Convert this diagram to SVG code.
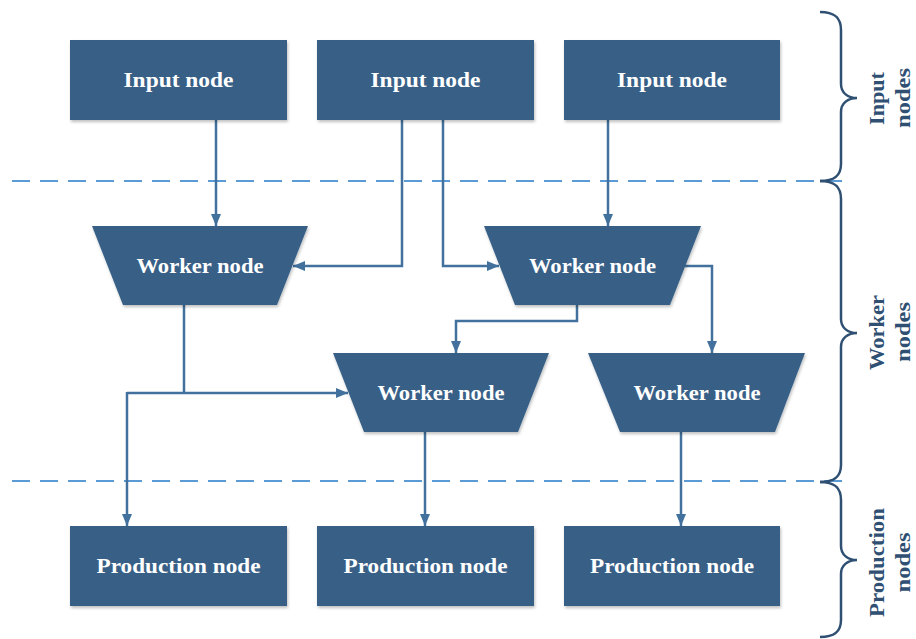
<svg xmlns="http://www.w3.org/2000/svg" width="916" height="639" viewBox="0 0 916 639">
  <style>
    .node { fill: #376187; filter: url(#shadow); }
    .label { font-family: "Liberation Serif", "Times New Roman", serif; font-weight: bold; font-size: 22px; fill: #ffffff; text-anchor: middle; }
    .conn { fill: none; stroke: #41719c; stroke-width: 2.5; }
    .arrow { marker-end: url(#head); }
    .tier { fill: none; stroke: #5b9bd5; stroke-width: 2; stroke-dasharray: 18 10; }
    .brace { fill: none; stroke: #2f5072; stroke-width: 2.5; }
    .side { font-family: "Liberation Serif", "Times New Roman", serif; font-weight: bold; font-size: 20px; fill: #2f5072; text-anchor: middle; }
  </style>
  <defs>
    <filter id="shadow" x="-10%" y="-10%" width="125%" height="130%">
      <feDropShadow dx="1" dy="2" stdDeviation="1.5" flood-color="#000000" flood-opacity="0.25"/>
    </filter>
    <marker id="head" viewBox="0 0 12 10" refX="12" refY="5" markerWidth="12" markerHeight="10" markerUnits="userSpaceOnUse" orient="auto">
      <path d="M0,0 L12,5 L0,10 Z" fill="#41719c"/>
    </marker>
  </defs>

  <!-- tier separators -->
  <g id="separators">
    <line class="tier" x1="12" y1="181" x2="845" y2="181"/>
    <line class="tier" x1="12" y1="481" x2="845" y2="481"/>
  </g>

  <!-- connectors -->
  <g id="connectors">
    <path class="conn arrow" d="M216,120 L216,226"/>
    <path class="conn arrow" d="M402,120 L402,266 L293,266"/>
    <path class="conn arrow" d="M443,120 L443,266 L499,266"/>
    <path class="conn arrow" d="M608,120 L608,226"/>
    <path class="conn arrow" d="M685,266 L712,266 L712,353"/>
    <path class="conn arrow" d="M577,305 L577,321 L456,321 L456,353"/>
    <path class="conn" d="M184,305 L184,393"/>
    <path class="conn arrow" d="M127,393 L348,393"/>
    <path class="conn arrow" d="M127,392 L127,526"/>
    <path class="conn arrow" d="M425,432 L425,526"/>
    <path class="conn arrow" d="M681,432 L681,526"/>
  </g>

  <!-- input nodes -->
  <g id="input1">
    <rect class="node" x="70" y="40" width="217" height="80"/>
    <text class="label" x="178.5" y="87" textLength="110" lengthAdjust="spacingAndGlyphs">Input node</text>
  </g>
  <g id="input2">
    <rect class="node" x="317" y="40" width="217" height="80"/>
    <text class="label" x="425.5" y="87" textLength="110" lengthAdjust="spacingAndGlyphs">Input node</text>
  </g>
  <g id="input3">
    <rect class="node" x="564" y="40" width="216" height="80"/>
    <text class="label" x="672" y="87" textLength="110" lengthAdjust="spacingAndGlyphs">Input node</text>
  </g>

  <!-- worker nodes -->
  <g id="worker1">
    <polygon class="node" points="92,226 308,226 277,305 123,305"/>
    <text class="label" x="200" y="273" textLength="127" lengthAdjust="spacingAndGlyphs">Worker node</text>
  </g>
  <g id="worker2">
    <polygon class="node" points="484,226 701,226 670,305 515,305"/>
    <text class="label" x="592.5" y="273" textLength="127" lengthAdjust="spacingAndGlyphs">Worker node</text>
  </g>
  <g id="worker3">
    <polygon class="node" points="333,353 549,353 518,432 364,432"/>
    <text class="label" x="441" y="400" textLength="127" lengthAdjust="spacingAndGlyphs">Worker node</text>
  </g>
  <g id="worker4">
    <polygon class="node" points="588,353 805,353 775,432 620,432"/>
    <text class="label" x="697" y="400" textLength="127" lengthAdjust="spacingAndGlyphs">Worker node</text>
  </g>

  <!-- production nodes -->
  <g id="production1">
    <rect class="node" x="70" y="526" width="217" height="80"/>
    <text class="label" x="178.5" y="573" textLength="164" lengthAdjust="spacingAndGlyphs">Production node</text>
  </g>
  <g id="production2">
    <rect class="node" x="317" y="526" width="217" height="80"/>
    <text class="label" x="425.5" y="573" textLength="164" lengthAdjust="spacingAndGlyphs">Production node</text>
  </g>
  <g id="production3">
    <rect class="node" x="564" y="526" width="216" height="80"/>
    <text class="label" x="672" y="573" textLength="164" lengthAdjust="spacingAndGlyphs">Production node</text>
  </g>

  <!-- tier braces and labels -->
  <g id="tier-input">
    <path class="brace" d="M820,12 C834,12 841,17 841,30 L841,84 C841,93 848,98 857,98 C848,98 841,103 841,112 L841,164 C841,176 834,181 820,181"/>
    <text class="side" transform="translate(884,98.5) rotate(-90)" textLength="53" lengthAdjust="spacingAndGlyphs">Input</text>
    <text class="side" transform="translate(910,98) rotate(-90)" textLength="60" lengthAdjust="spacingAndGlyphs">nodes</text>
  </g>
  <g id="tier-worker">
    <path class="brace" d="M820,181 C834,181 841,186 841,199 L841,319 C841,328 848,333 857,333 C848,333 841,338 841,347 L841,465 C841,477 834,482 820,482"/>
    <text class="side" transform="translate(884,332.5) rotate(-90)" textLength="75" lengthAdjust="spacingAndGlyphs">Worker</text>
    <text class="side" transform="translate(910,332) rotate(-90)" textLength="60" lengthAdjust="spacingAndGlyphs">nodes</text>
  </g>
  <g id="tier-production">
    <path class="brace" d="M820,482 C834,482 841,487 841,500 L841,546 C841,555 848,560 857,560 C848,560 841,565 841,574 L841,620 C841,632 834,637 820,637"/>
    <text class="side" transform="translate(884,562.5) rotate(-90)" textLength="109" lengthAdjust="spacingAndGlyphs">Production</text>
    <text class="side" transform="translate(910,562.5) rotate(-90)" textLength="60" lengthAdjust="spacingAndGlyphs">nodes</text>
  </g>
</svg>
